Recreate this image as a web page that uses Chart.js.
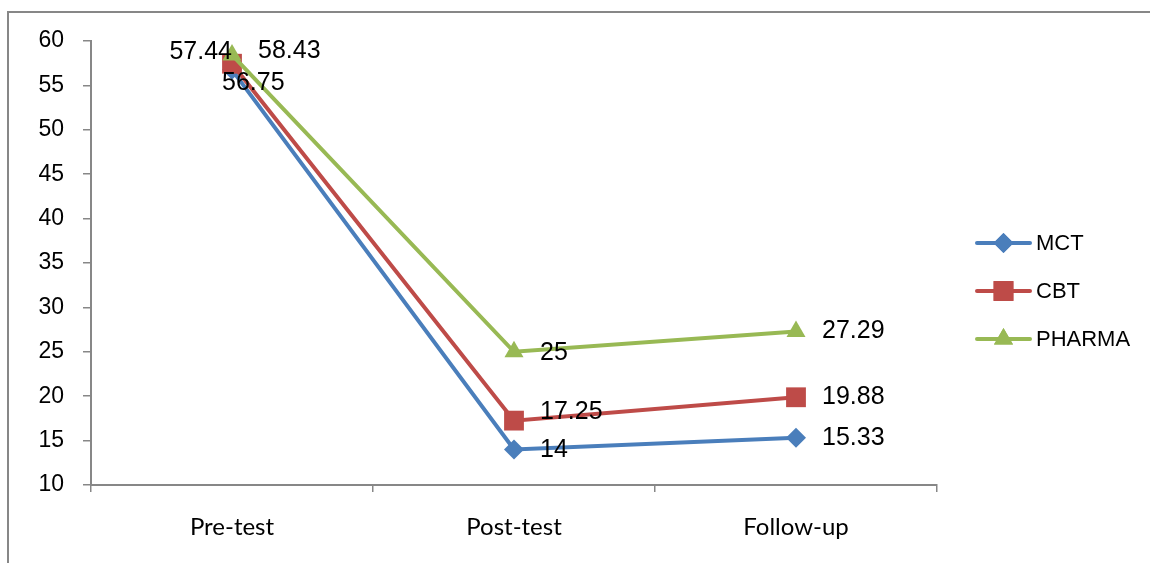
<!DOCTYPE html>
<html>
<head>
<meta charset="utf-8">
<script src="https://cdn.jsdelivr.net/npm/chart.js@4"></script>
<style>
  html, body { margin: 0; padding: 0; background: #fff; overflow: hidden; }
  #frame { position: absolute; left: 7px; top: 11px; width: 1200px; height: 600px;
           border-left: 2px solid #878787; border-top: 2px solid #878787; }
  #wrap { position: absolute; left: 0; top: 0; width: 1150px; height: 563px; }
</style>
</head>
<body>
<div id="frame"></div>
<div id="wrap"><canvas id="c" width="1150" height="563"></canvas></div>
<script>
const categories = ["Pre-test", "Post-test", "Follow-up"];
const seriesNames = ["MCT", "CBT", "PHARMA"];
const mct = [56.75, 14, 15.33];
const cbt = [57.44, 17.25, 19.88];
const pharma = [58.43, 25, 27.29];
const yTicks = [10, 15, 20, 25, 30, 35, 40, 45, 50, 55, 60];

const colors = ["#4A7EBB", "#BE4B48", "#98B954"];
const styles = ["rectRot", "rect", "triangle"];
const radii = [10, 14, 11];

// label offsets per dataset per point: [dx, dy, align]
const labelOffsets = [
  [[-10, 13, "left"], [26, 1, "left"], [26, 0, "left"]],
  [[0, -12, "right"], [26, -9, "left"], [26, 0, "left"]],
  [[26, -4, "left"], [26, 1, "left"], [26, 0, "left"]]
];

const labelPlugin = {
  id: "dataLabels",
  afterDatasetsDraw(chart) {
    const ctx = chart.ctx;
    ctx.save();
    ctx.font = "25px 'Liberation Sans', Arial, sans-serif";
    ctx.fillStyle = "#000";
    ctx.textBaseline = "middle";
    chart.data.datasets.forEach((ds, di) => {
      const meta = chart.getDatasetMeta(di);
      meta.data.forEach((pt, i) => {
        const off = labelOffsets[di][i];
        ctx.textAlign = off[2];
        ctx.fillText(String(ds.data[i]), pt.x + off[0], pt.y + off[1]);
      });
    });
    ctx.restore();
  }
};

const legendPlugin = {
  id: "customLegend",
  afterDraw(chart) {
    const ctx = chart.ctx;
    ctx.save();
    const ys = [243, 291, 339];
    seriesNames.forEach((name, i) => {
      const y = ys[i];
      ctx.strokeStyle = colors[i];
      ctx.lineWidth = 4;
      ctx.lineCap = "round";
      ctx.beginPath();
      ctx.moveTo(977, y);
      ctx.lineTo(1030, y);
      ctx.stroke();
      ctx.fillStyle = colors[i];
      Chart.helpers.drawPoint(ctx, {pointStyle: styles[i], radius: radii[i], borderWidth: 0}, 1003.5, y);
      ctx.fill();
      ctx.fillStyle = "#000";
      ctx.font = "22px 'Liberation Sans', Arial, sans-serif";
      ctx.textAlign = "left";
      ctx.textBaseline = "middle";
      ctx.fillText(name, 1036, y + 1);
    });
    ctx.restore();
  }
};

const dataArrays = [mct, cbt, pharma];
new Chart(document.getElementById("c"), {
  type: "line",
  data: {
    labels: categories,
    datasets: seriesNames.map((n, i) => ({
      label: n,
      data: dataArrays[i],
      borderColor: colors[i],
      backgroundColor: colors[i],
      borderWidth: 4,
      pointStyle: styles[i],
      pointRadius: radii[i],
      pointBorderWidth: 0,
      pointBackgroundColor: colors[i],
      pointHoverRadius: radii[i],
      tension: 0,
      order: 2 - i
    }))
  },
  options: {
    responsive: false,
    animation: false,
    events: [],
    layout: { padding: { left: 0, top: 41, right: 213, bottom: 0 } },
    plugins: { legend: { display: false }, tooltip: { enabled: false } },
    scales: {
      x: {
        type: "category",
        offset: true,
        grid: { offset: true, drawOnChartArea: false, drawTicks: true, tickLength: 7, color: "#878787", lineWidth: 1.5 },
        border: { color: "#878787", width: 2 },
        ticks: { color: "#000", font: { family: "Lato, 'Noto Sans', sans-serif", size: 24 }, padding: 21, maxRotation: 0 },
        afterFit(s) { s.height = 78; }
      },
      y: {
        min: 10, max: 60,
        afterBuildTicks(s) { s.ticks = yTicks.map(v => ({ value: v })); },
        grid: { drawOnChartArea: false, drawTicks: true, tickLength: 8, color: "#878787", lineWidth: 1.5 },
        border: { color: "#878787", width: 2 },
        ticks: { color: "#000", font: { family: "'Liberation Sans', Arial, sans-serif", size: 23 }, padding: 19 },
        afterFit(s) { s.width = 91; }
      }
    }
  },
  plugins: [labelPlugin, legendPlugin]
});
</script>
</body>
</html>
